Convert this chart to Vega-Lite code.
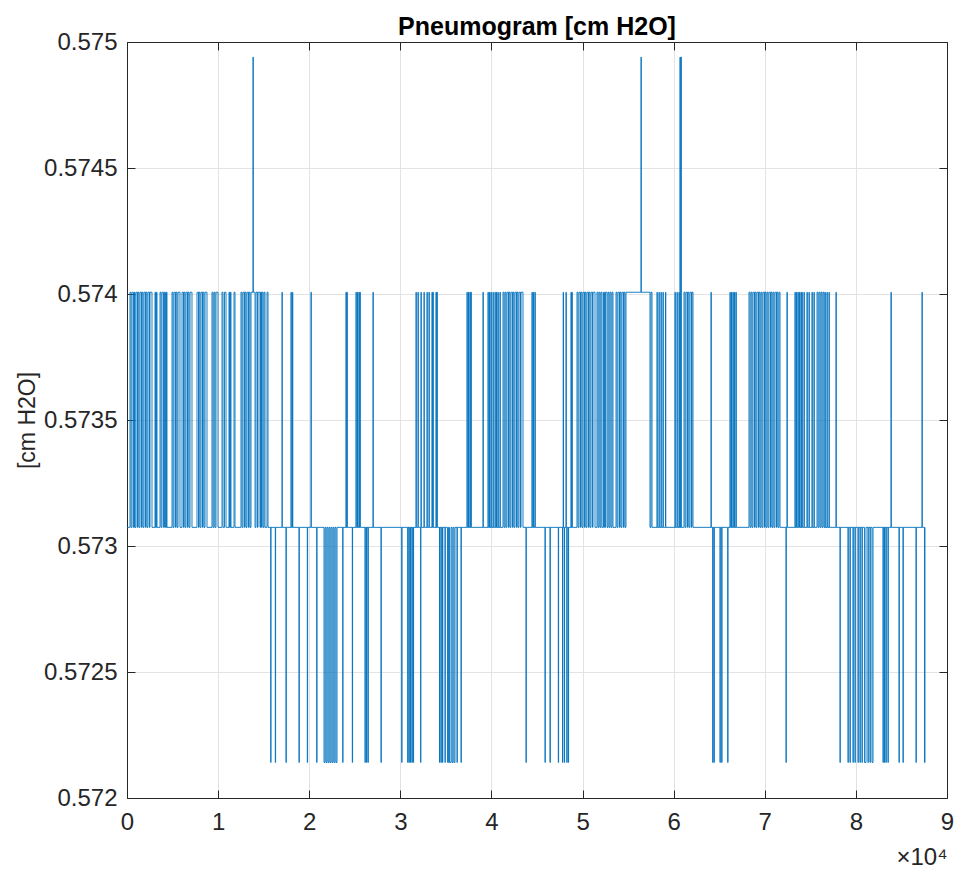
{
  "$schema": "https://vega.github.io/schema/vega-lite/v6.json",
  "width": 820,
  "height": 756,
  "autosize": "none",
  "padding": {"left": 127, "top": 42, "right": 10, "bottom": 76},
  "background": "white",
  "config": {
    "view": {"stroke": null},
    "font": "Liberation Sans",
    "axis": {
      "domainColor": "#262626",
      "tickColor": "#262626",
      "labelColor": "#262626",
      "titleColor": "#262626",
      "labelFont": "Liberation Sans",
      "titleFont": "Liberation Sans",
      "gridColor": "#e3e3e3",
      "gridWidth": 1,
      "domainWidth": 1,
      "tickWidth": 1
    }
  },
  "title": {
    "text": "Pneumogram [cm H2O]",
    "font": "Liberation Sans",
    "fontSize": 25,
    "fontWeight": "bold",
    "color": "#000000",
    "anchor": "middle",
    "offset": -10
  },
  "data": {
    "values": [
      {"x":0,"v":0.573074},
      {"x":329,"v":0.574007},{"x":439,"v":0.573074},{"x":549,"v":0.574007},{"x":713,"v":0.573074},{"x":823,"v":0.574007},{"x":878,"v":0.573074},{"x":988,"v":0.574007},{"x":1152,"v":0.573074},{"x":1207,"v":0.574007},{"x":1317,"v":0.573074},{"x":1427,"v":0.574007},{"x":1591,"v":0.573074},{"x":1646,"v":0.574007},{"x":1756,"v":0.573074},{"x":1866,"v":0.574007},{"x":2030,"v":0.573074},{"x":2085,"v":0.574007},{"x":2195,"v":0.573074},{"x":2305,"v":0.574007},{"x":2470,"v":0.573074},{"x":2524,"v":0.574007},{"x":2744,"v":0.573074},
      {"x":3073,"v":0.574007},{"x":3128,"v":0.573074},{"x":3238,"v":0.574007},{"x":3293,"v":0.573074},
      {"x":3622,"v":0.574007},{"x":3732,"v":0.573074},{"x":3841,"v":0.574007},{"x":4006,"v":0.573074},{"x":4116,"v":0.574007},{"x":4226,"v":0.573074},{"x":4335,"v":0.574007},{"x":4390,"v":0.573074},
      {"x":4939,"v":0.574007},{"x":5049,"v":0.573074},{"x":5159,"v":0.574007},{"x":5323,"v":0.573074},{"x":5378,"v":0.574007},{"x":5488,"v":0.573074},{"x":5598,"v":0.574007},{"x":5817,"v":0.573074},
      {"x":6037,"v":0.574007},{"x":6201,"v":0.573074},{"x":6256,"v":0.574007},{"x":6366,"v":0.573074},{"x":6476,"v":0.574007},{"x":6640,"v":0.573074},{"x":6695,"v":0.574007},{"x":6805,"v":0.573074},{"x":6915,"v":0.574007},{"x":7134,"v":0.573074},
      {"x":7683,"v":0.574007},{"x":7848,"v":0.573074},{"x":7902,"v":0.574007},{"x":8012,"v":0.573074},{"x":8122,"v":0.574007},{"x":8287,"v":0.573074},{"x":8341,"v":0.574007},{"x":8451,"v":0.573074},{"x":8561,"v":0.574007},{"x":8780,"v":0.573074},
      {"x":9329,"v":0.574007},{"x":9439,"v":0.573074},{"x":9549,"v":0.574007},{"x":9659,"v":0.573074},{"x":9768,"v":0.574007},{"x":9988,"v":0.573074},
      {"x":10427,"v":0.574007},{"x":10537,"v":0.573074},{"x":10701,"v":0.574007},{"x":10866,"v":0.573074},
      {"x":11195,"v":0.574007},{"x":11250,"v":0.573074},{"x":11360,"v":0.574007},{"x":11415,"v":0.573074},
      {"x":11744,"v":0.574007},{"x":11854,"v":0.573074},
      {"x":12512,"v":0.574007},{"x":12622,"v":0.573074},{"x":12732,"v":0.574007},{"x":12896,"v":0.573074},{"x":12951,"v":0.574007},{"x":13061,"v":0.573074},{"x":13171,"v":0.574007},{"x":13335,"v":0.573074},{"x":13390,"v":0.574007},{"x":13500,"v":0.573074},
      {"x":13610,"v":0.574007},{"x":13829,"v":0.57494},{"x":13862,"v":0.574007},{"x":14049,"v":0.573074},
      {"x":14159,"v":0.574007},{"x":14323,"v":0.573074},{"x":14378,"v":0.574007},{"x":14598,"v":0.573074},{"x":14652,"v":0.574007},{"x":14762,"v":0.573074},{"x":14817,"v":0.574007},{"x":14927,"v":0.573074},{"x":15037,"v":0.574007},{"x":15146,"v":0.573074},
      {"x":15366,"v":0.574007},{"x":15476,"v":0.573074},
      {"x":15772,"v":0.572141},{"x":15805,"v":0.573074},{"x":16277,"v":0.572141},{"x":16310,"v":0.573074},
      {"x":17012,"v":0.574007},{"x":17045,"v":0.573074},
      {"x":17451,"v":0.572141},{"x":17484,"v":0.573074},
      {"x":18000,"v":0.574007},{"x":18033,"v":0.573074},{"x":18165,"v":0.574007},{"x":18198,"v":0.573074},
      {"x":18878,"v":0.572141},{"x":18911,"v":0.573074},
      {"x":19789,"v":0.572141},{"x":19822,"v":0.573074},
      {"x":20195,"v":0.574007},{"x":20228,"v":0.573074},
      {"x":20821,"v":0.572141},{"x":20854,"v":0.573074},
      {"x":21622,"v":0.572141},{"x":21732,"v":0.573074},{"x":21841,"v":0.572141},{"x":21951,"v":0.573074},{"x":22061,"v":0.572141},{"x":22171,"v":0.573074},{"x":22280,"v":0.572141},{"x":22390,"v":0.573074},{"x":22500,"v":0.572141},{"x":22610,"v":0.573074},{"x":22720,"v":0.572141},{"x":22829,"v":0.573074},{"x":22939,"v":0.572141},{"x":23049,"v":0.573074},
      {"x":23674,"v":0.572141},{"x":23707,"v":0.573074},
      {"x":24037,"v":0.574007},{"x":24070,"v":0.573074},{"x":24146,"v":0.574007},{"x":24179,"v":0.573074},
      {"x":24728,"v":0.572141},{"x":24761,"v":0.573074},
      {"x":25134,"v":0.574007},{"x":25167,"v":0.573074},{"x":25299,"v":0.574007},{"x":25332,"v":0.573074},{"x":25463,"v":0.574007},{"x":25496,"v":0.573074},{"x":25573,"v":0.574007},{"x":25606,"v":0.573074},
      {"x":26122,"v":0.572141},{"x":26155,"v":0.573074},{"x":26287,"v":0.572141},{"x":26320,"v":0.573074},{"x":26451,"v":0.572141},{"x":26484,"v":0.573074},
      {"x":27000,"v":0.574007},{"x":27033,"v":0.573074},
      {"x":27878,"v":0.572141},{"x":27911,"v":0.573074},
      {"x":30150,"v":0.572141},{"x":30183,"v":0.573074},
      {"x":30808,"v":0.572141},{"x":30841,"v":0.573074},{"x":30951,"v":0.572141},{"x":30984,"v":0.573074},{"x":31116,"v":0.572141},{"x":31149,"v":0.573074},{"x":31280,"v":0.572141},{"x":31313,"v":0.573074},{"x":31423,"v":0.572141},{"x":31456,"v":0.573074},
      {"x":31720,"v":0.574007},{"x":31753,"v":0.573074},{"x":31939,"v":0.574007},{"x":31972,"v":0.573074},
      {"x":32224,"v":0.572141},{"x":32250,"v":0.573074},{"x":32268,"v":0.574007},{"x":32301,"v":0.573074},
      {"x":32598,"v":0.574007},{"x":32631,"v":0.573074},{"x":32927,"v":0.574007},{"x":32960,"v":0.573074},{"x":33146,"v":0.574007},{"x":33179,"v":0.573074},{"x":33476,"v":0.574007},{"x":33509,"v":0.573074},{"x":33585,"v":0.574007},{"x":33618,"v":0.573074},{"x":33915,"v":0.574007},{"x":33948,"v":0.573074},{"x":34024,"v":0.574007},{"x":34057,"v":0.573074},
      {"x":34299,"v":0.572141},{"x":34332,"v":0.573074},{"x":34463,"v":0.572141},{"x":34496,"v":0.573074},{"x":34628,"v":0.572141},{"x":34661,"v":0.573074},{"x":34902,"v":0.572141},{"x":34935,"v":0.573074},
      {"x":35177,"v":0.572141},{"x":35287,"v":0.573074},{"x":35397,"v":0.572141},{"x":35561,"v":0.573074},{"x":35671,"v":0.572141},{"x":35781,"v":0.573074},{"x":35890,"v":0.572141},{"x":36000,"v":0.573074},
      {"x":36220,"v":0.572141},{"x":36253,"v":0.573074},
      {"x":36659,"v":0.572141},{"x":36692,"v":0.573074},
      {"x":37317,"v":0.574007},{"x":37350,"v":0.573074},{"x":37482,"v":0.574007},{"x":37515,"v":0.573074},{"x":37646,"v":0.574007},{"x":37679,"v":0.573074},{"x":37756,"v":0.574007},{"x":37789,"v":0.573074},
      {"x":39073,"v":0.574007},{"x":39106,"v":0.573074},
      {"x":39622,"v":0.574007},{"x":39655,"v":0.573074},{"x":39787,"v":0.574007},{"x":39820,"v":0.573074},{"x":39951,"v":0.574007},{"x":39984,"v":0.573074},
      {"x":40171,"v":0.574007},{"x":40204,"v":0.573074},{"x":40390,"v":0.574007},{"x":40423,"v":0.573074},{"x":40555,"v":0.574007},{"x":40588,"v":0.573074},{"x":40719,"v":0.574007},{"x":40752,"v":0.573074},{"x":40939,"v":0.574007},{"x":40972,"v":0.573074},
      {"x":41268,"v":0.574007},{"x":41378,"v":0.573074},{"x":41488,"v":0.574007},{"x":41598,"v":0.573074},{"x":41708,"v":0.574007},{"x":41872,"v":0.573074},{"x":41927,"v":0.574007},{"x":42037,"v":0.573074},{"x":42146,"v":0.574007},{"x":42311,"v":0.573074},{"x":42366,"v":0.574007},{"x":42476,"v":0.573074},{"x":42585,"v":0.574007},{"x":42750,"v":0.573074},{"x":42805,"v":0.574007},{"x":42915,"v":0.573074},{"x":43024,"v":0.574007},{"x":43189,"v":0.573074},{"x":43244,"v":0.574007},{"x":43463,"v":0.573074},
      {"x":43793,"v":0.572141},{"x":43826,"v":0.573074},
      {"x":44451,"v":0.574007},{"x":44484,"v":0.573074},{"x":44615,"v":0.574007},{"x":44648,"v":0.573074},{"x":44780,"v":0.574007},{"x":44813,"v":0.573074},
      {"x":45878,"v":0.572141},{"x":45911,"v":0.573074},
      {"x":46427,"v":0.572141},{"x":46460,"v":0.573074},
      {"x":47338,"v":0.572141},{"x":47371,"v":0.573074},
      {"x":47799,"v":0.572141},{"x":47832,"v":0.573074},{"x":47875,"v":0.574007},{"x":47908,"v":0.573074},
      {"x":47997,"v":0.572141},{"x":48030,"v":0.573074},
      {"x":48183,"v":0.574007},{"x":48216,"v":0.573074},
      {"x":48271,"v":0.572141},{"x":48304,"v":0.573074},
      {"x":48436,"v":0.572141},{"x":48469,"v":0.573074},
      {"x":48732,"v":0.574007},{"x":48765,"v":0.573074},{"x":48841,"v":0.574007},{"x":48874,"v":0.573074},
      {"x":49390,"v":0.574007},{"x":49500,"v":0.573074},{"x":49610,"v":0.574007},{"x":49774,"v":0.573074},{"x":49829,"v":0.574007},{"x":49939,"v":0.573074},{"x":50049,"v":0.574007},{"x":50213,"v":0.573074},{"x":50268,"v":0.574007},{"x":50378,"v":0.573074},{"x":50488,"v":0.574007},{"x":50652,"v":0.573074},{"x":50707,"v":0.574007},{"x":50817,"v":0.573074},{"x":50927,"v":0.574007},{"x":51091,"v":0.573074},{"x":51146,"v":0.574007},{"x":51366,"v":0.573074},
      {"x":51585,"v":0.574007},{"x":51695,"v":0.573074},{"x":51805,"v":0.574007},{"x":51915,"v":0.573074},{"x":52024,"v":0.574007},{"x":52134,"v":0.573074},
      {"x":52299,"v":0.574007},{"x":52409,"v":0.573074},{"x":52518,"v":0.574007},{"x":52683,"v":0.573074},
      {"x":52793,"v":0.574007},{"x":52903,"v":0.573074},{"x":53012,"v":0.574007},{"x":53122,"v":0.573074},{"x":53232,"v":0.574007},{"x":53342,"v":0.573074},
      {"x":53671,"v":0.574007},{"x":53781,"v":0.573074},{"x":53890,"v":0.574007},{"x":54055,"v":0.573074},{"x":54110,"v":0.574007},{"x":54220,"v":0.573074},{"x":54329,"v":0.574007},{"x":54494,"v":0.573074},{"x":54549,"v":0.574007},{"x":54659,"v":0.573074},
      {"x":54768,"v":0.574007},{"x":56415,"v":0.57494},{"x":56448,"v":0.574007},{"x":57402,"v":0.573074},
      {"x":57512,"v":0.574007},{"x":57622,"v":0.573074},
      {"x":58171,"v":0.574007},{"x":58204,"v":0.573074},{"x":58390,"v":0.574007},{"x":58423,"v":0.573074},{"x":58610,"v":0.574007},{"x":58643,"v":0.573074},{"x":58829,"v":0.574007},{"x":58862,"v":0.573074},{"x":59104,"v":0.574007},{"x":59137,"v":0.573074},
      {"x":60146,"v":0.574007},{"x":60179,"v":0.573074},{"x":60366,"v":0.574007},{"x":60399,"v":0.573074},{"x":60585,"v":0.574007},{"x":60618,"v":0.573074},
      {"x":60695,"v":0.57494},{"x":60728,"v":0.573074},{"x":60805,"v":0.57494},{"x":60838,"v":0.573074},
      {"x":61134,"v":0.574007},{"x":61244,"v":0.573074},{"x":61354,"v":0.574007},{"x":61518,"v":0.573074},{"x":61573,"v":0.574007},{"x":61683,"v":0.573074},{"x":61793,"v":0.574007},{"x":61957,"v":0.573074},{"x":62012,"v":0.574007},{"x":62122,"v":0.573074},
      {"x":64098,"v":0.574007},{"x":64131,"v":0.573074},
      {"x":64284,"v":0.572141},{"x":64317,"v":0.573074},{"x":64427,"v":0.572141},{"x":64460,"v":0.573074},
      {"x":65085,"v":0.572141},{"x":65118,"v":0.573074},{"x":65272,"v":0.572141},{"x":65305,"v":0.573074},
      {"x":65930,"v":0.572141},{"x":65963,"v":0.573074},
      {"x":66183,"v":0.574007},{"x":66216,"v":0.573074},{"x":66348,"v":0.574007},{"x":66381,"v":0.573074},{"x":66512,"v":0.574007},{"x":66545,"v":0.573074},{"x":66677,"v":0.574007},{"x":66710,"v":0.573074},{"x":66841,"v":0.574007},{"x":66874,"v":0.573074},
      {"x":68268,"v":0.574007},{"x":68378,"v":0.573074},{"x":68488,"v":0.574007},{"x":68598,"v":0.573074},{"x":68707,"v":0.574007},{"x":68872,"v":0.573074},{"x":68927,"v":0.574007},{"x":69037,"v":0.573074},{"x":69146,"v":0.574007},{"x":69311,"v":0.573074},{"x":69366,"v":0.574007},{"x":69476,"v":0.573074},{"x":69585,"v":0.574007},{"x":69695,"v":0.573074},{"x":69805,"v":0.574007},{"x":69969,"v":0.573074},{"x":70024,"v":0.574007},{"x":70134,"v":0.573074},{"x":70244,"v":0.574007},{"x":70354,"v":0.573074},{"x":70463,"v":0.574007},{"x":70628,"v":0.573074},{"x":70683,"v":0.574007},{"x":70793,"v":0.573074},{"x":70902,"v":0.574007},{"x":71012,"v":0.573074},{"x":71122,"v":0.574007},{"x":71287,"v":0.573074},{"x":71341,"v":0.574007},{"x":71451,"v":0.573074},{"x":71561,"v":0.574007},{"x":71671,"v":0.573074},
      {"x":72329,"v":0.572141},{"x":72362,"v":0.573074},
      {"x":72439,"v":0.574007},{"x":72472,"v":0.573074},
      {"x":73317,"v":0.574007},{"x":73350,"v":0.573074},{"x":73482,"v":0.574007},{"x":73515,"v":0.573074},{"x":73646,"v":0.574007},{"x":73679,"v":0.573074},{"x":73811,"v":0.574007},{"x":73844,"v":0.573074},{"x":73976,"v":0.574007},{"x":74009,"v":0.573074},{"x":74085,"v":0.574007},{"x":74118,"v":0.573074},
      {"x":74305,"v":0.574007},{"x":74338,"v":0.573074},{"x":74634,"v":0.574007},{"x":74667,"v":0.573074},{"x":74854,"v":0.574007},{"x":74887,"v":0.573074},{"x":75183,"v":0.574007},{"x":75216,"v":0.573074},{"x":75402,"v":0.574007},{"x":75435,"v":0.573074},
      {"x":75732,"v":0.574007},{"x":75841,"v":0.573074},{"x":75951,"v":0.574007},{"x":76061,"v":0.573074},{"x":76171,"v":0.574007},{"x":76280,"v":0.573074},{"x":76390,"v":0.574007},{"x":76500,"v":0.573074},{"x":76610,"v":0.574007},{"x":76643,"v":0.573074},{"x":76829,"v":0.574007},{"x":76862,"v":0.573074},{"x":77049,"v":0.574007},{"x":77082,"v":0.573074},
      {"x":77817,"v":0.574007},{"x":77850,"v":0.573074},
      {"x":78256,"v":0.572141},{"x":78289,"v":0.573074},
      {"x":79134,"v":0.572141},{"x":79167,"v":0.573074},{"x":79354,"v":0.572141},{"x":79387,"v":0.573074},{"x":79683,"v":0.572141},{"x":79716,"v":0.573074},{"x":79902,"v":0.572141},{"x":79935,"v":0.573074},{"x":80232,"v":0.572141},{"x":80265,"v":0.573074},{"x":80451,"v":0.572141},{"x":80484,"v":0.573074},{"x":80671,"v":0.572141},{"x":80704,"v":0.573074},{"x":80945,"v":0.572141},{"x":81110,"v":0.573074},{"x":81329,"v":0.572141},{"x":81362,"v":0.573074},{"x":81549,"v":0.572141},{"x":81582,"v":0.573074},{"x":81768,"v":0.572141},{"x":81878,"v":0.573074},
      {"x":82976,"v":0.572141},{"x":83009,"v":0.573074},{"x":83140,"v":0.572141},{"x":83173,"v":0.573074},{"x":83305,"v":0.572141},{"x":83338,"v":0.573074},{"x":83524,"v":0.572141},{"x":83557,"v":0.573074},
      {"x":83854,"v":0.574007},{"x":83887,"v":0.573074},
      {"x":84732,"v":0.572141},{"x":84765,"v":0.573074},
      {"x":85171,"v":0.572141},{"x":85204,"v":0.573074},
      {"x":86598,"v":0.572141},{"x":86631,"v":0.573074},
      {"x":87256,"v":0.574007},{"x":87289,"v":0.573074},
      {"x":87530,"v":0.572141},{"x":87585,"v":0.573074}
    ]
  },
  "layer": [
    {
      "mark": {"type": "line", "interpolate": "step-after", "color": "#0072BD", "strokeWidth": 0.9},
      "encoding": {
        "x": {
          "field": "x",
          "type": "quantitative",
          "scale": {"domain": [0, 90000], "nice": false, "zero": false},
          "axis": {
            "orient": "bottom",
            "values": [0, 10000, 20000, 30000, 40000, 50000, 60000, 70000, 80000, 90000],
            "labelExpr": "datum.value / 10000",
            "labelFontSize": 24,
            "labelPadding": 20,
            "tickSize": -8,
            "grid": true,
            "title": "×10⁴",
            "titleFontSize": 24,
            "titleFontWeight": "normal",
            "titleX": 820,
            "titleY": 66,
            "titleAlign": "right",
            "titleBaseline": "alphabetic",
            "labelFlush": false
          }
        },
        "y": {
          "field": "v",
          "type": "quantitative",
          "scale": {"domain": [0.572, 0.575], "nice": false, "zero": false},
          "axis": {
            "orient": "left",
            "values": [0.572, 0.5725, 0.573, 0.5735, 0.574, 0.5745, 0.575],
            "format": ".4~f",
            "labelFontSize": 24,
            "labelPadding": 18,
            "tickSize": -8,
            "grid": true,
            "title": "[cm H2O]",
            "titleFontSize": 23,
            "titleFontWeight": "normal",
            "titlePadding": 4,
            "labelFlush": false
          }
        }
      }
    },
    {
      "mark": {"type": "line", "interpolate": "step-after", "opacity": 0},
      "encoding": {
        "x": {
          "field": "x",
          "type": "quantitative",
          "axis": {
            "orient": "top",
            "values": [0, 10000, 20000, 30000, 40000, 50000, 60000, 70000, 80000, 90000],
            "labels": false,
            "tickSize": -8,
            "grid": false,
            "title": null
          }
        },
        "y": {
          "field": "v",
          "type": "quantitative",
          "axis": {
            "orient": "right",
            "values": [0.572, 0.5725, 0.573, 0.5735, 0.574, 0.5745, 0.575],
            "labels": false,
            "tickSize": -8,
            "grid": false,
            "title": null
          }
        }
      }
    }
  ],
  "resolve": {"axis": {"x": "independent", "y": "independent"}}
}
